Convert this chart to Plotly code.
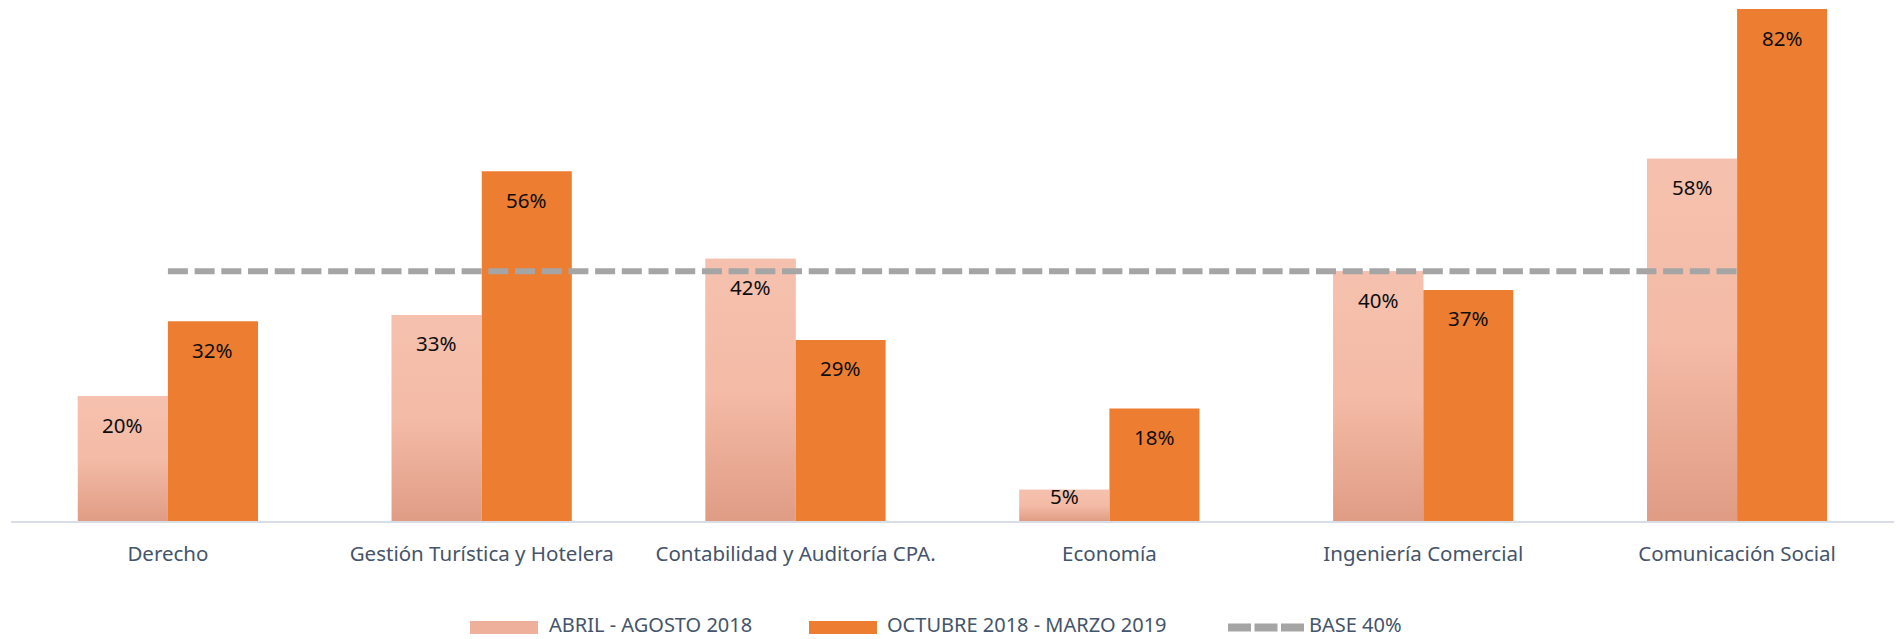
import plotly.graph_objects as go

# ---------------- data ----------------
categories = [
    "Derecho",
    "Gestión Turística y Hotelera",
    "Contabilidad y Auditoría CPA.",
    "Economía",
    "Ingeniería Comercial",
    "Comunicación Social",
]
abril_agosto_2018 = [0.20, 0.33, 0.42, 0.05, 0.40, 0.58]
octubre_2018_marzo_2019 = [0.32, 0.56, 0.29, 0.18, 0.37, 0.82]
base_40 = [0.40] * len(categories)
series_names = ["ABRIL - AGOSTO 2018", "OCTUBRE 2018 - MARZO 2019", "BASE 40%"]

# ---------------- style ----------------
W, H = 1897, 639
ML, MR, MT, MB = 11, 3, 4, 118
PW, PH = W - ML - MR, H - MT - MB
YMAX = 0.828
BARGAP = 0.426
PINK = "#F5BFAC"
PINK_SCALE = [[0.0, "#E09C85"], [0.5, "#F4BBA6"], [1.0, "#F5C1AE"]]
ORANGE = "#ED7D31"
GREY = "#A5A5A5"
TXT = "#44546A"
FONT = "Noto Sans"
FS = 20.5
LEG_FS = 20
LABEL_DROP = 28.5      # px from bar top to label centre
LABEL_MIN_UP = 24.5    # px label centre must stay above the baseline

xs = list(range(len(categories)))
w = (1 - BARGAP) / 2

fig = go.Figure()
fig.add_trace(go.Bar(x=xs, y=abril_agosto_2018, name=series_names[0],
                     marker=dict(color=PINK, line=dict(width=0)), hoverinfo="skip"))
fig.add_trace(go.Bar(x=xs, y=octubre_2018_marzo_2019, name=series_names[1],
                     marker=dict(color=ORANGE, line=dict(width=0)), hoverinfo="skip"))

# gradient fill over the pink bars
for i, v in zip(xs, abril_agosto_2018):
    fig.add_trace(go.Scatter(
        x=[i - w, i, i, i - w, i - w], y=[0, 0, v, v, 0],
        mode="lines", line=dict(width=0), fill="toself",
        fillgradient=dict(type="vertical", colorscale=PINK_SCALE),
        showlegend=False, hoverinfo="skip"))

fig.add_trace(go.Scatter(x=xs, y=base_40, mode="lines", name=series_names[2],
                         line=dict(color=GREY, width=6, dash="20px,6.7px"),
                         hoverinfo="skip"))


def label_shift(v):
    bar_px = v * PH / YMAX
    return -min(LABEL_DROP, bar_px - LABEL_MIN_UP)


annotations = []
for vals, side in ((abril_agosto_2018, -1), (octubre_2018_marzo_2019, 1)):
    for i, v in zip(xs, vals):
        annotations.append(dict(x=i + side * w / 2, y=v, xref="x", yref="y",
                                yshift=label_shift(v),
                                text=f"{round(v*100)}%", showarrow=False, yanchor="middle",
                                font=dict(family=FONT, size=FS, color="#0D0D0D")))

# custom legend (pixel -> paper helpers)
def xp(px):
    return (px - ML) / PW

def yp(py):
    return (MT + PH - py) / PH

shapes = [
    dict(type="rect", xref="paper", yref="paper", x0=xp(470), x1=xp(538), y0=yp(634), y1=yp(621),
         fillcolor="#EFB09B", line=dict(width=0)),
    dict(type="rect", xref="paper", yref="paper", x0=xp(809), x1=xp(877), y0=yp(634), y1=yp(621),
         fillcolor=ORANGE, line=dict(width=0)),
    dict(type="line", xref="paper", yref="paper", x0=xp(1228), x1=xp(1305), y0=yp(627.5), y1=yp(627.5),
         line=dict(color=GREY, width=8, dash="23px,3.5px")),
]
for name, x0 in zip(series_names, [547, 885, 1307]):
    annotations.append(dict(x=xp(x0), y=yp(624.5), xref="paper", yref="paper", text=name,
                            showarrow=False, xanchor="left", yanchor="middle",
                            font=dict(family=FONT, size=LEG_FS, color=TXT)))

fig.update_layout(
    width=W, height=H,
    margin=dict(l=ML, r=MR, t=MT, b=MB, pad=0),
    paper_bgcolor="white", plot_bgcolor="white",
    barmode="group", bargap=BARGAP, bargroupgap=0,
    showlegend=False,
    xaxis=dict(tickvals=xs, ticktext=categories, range=[-0.5, len(xs) - 0.5],
               showline=True, linecolor="#D9DEE6", linewidth=2, showgrid=False,
               zeroline=False, ticks="", ticklabelstandoff=13,
               tickfont=dict(family=FONT, size=FS, color=TXT)),
    yaxis=dict(range=[0, YMAX], visible=False, showgrid=False, zeroline=False),
    annotations=annotations, shapes=shapes,
)

fig.write_html("out.html", config={"displayModeBar": False},
               post_script="document.body.style.margin='0';")
